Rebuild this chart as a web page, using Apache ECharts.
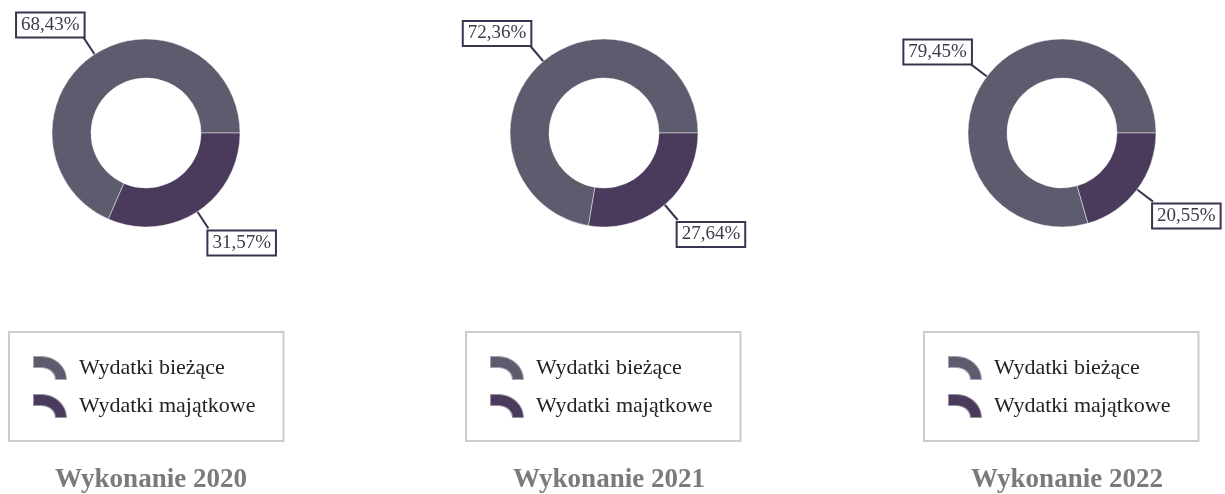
<!DOCTYPE html>
<html>
<head>
<meta charset="utf-8">
<script src="https://cdn.jsdelivr.net/npm/echarts@6/dist/echarts.min.js"></script>
<style>
  html, body { margin: 0; padding: 0; background: #fff; }
  #chart { width: 1225px; height: 494px; }
</style>
</head>
<body>
<div id="chart"></div>
<script>
// Struktura wydatków budżetu w latach 2020–2022 (udział procentowy)
const categories = ['Wydatki bieżące', 'Wydatki majątkowe'];
const years = ['2020', '2021', '2022'];
const current2020 = 68.43, capital2020 = 31.57;
const current2021 = 72.36, capital2021 = 27.64;
const current2022 = 79.45, capital2022 = 20.55;
const shares = [
  [current2020, capital2020],
  [current2021, capital2021],
  [current2022, capital2022]
];
const titlePrefix = 'Wykonanie ';

const colors = ['#5d5c6e', '#4a3a5b'];
const serif = '"Liberation Serif", "DejaVu Serif", serif';
const centersX = [146, 604, 1062];
const legendLeft = [9, 466, 924];

// Ikona legendy: wycinek pierścienia
const arcIcon = 'path://M0 0 L8 0 C22 0 34 10 34 24 L22 24 C22 17 16 12 8 12 L0 12 Z';

const chart = echarts.init(document.getElementById('chart'), null, { renderer: 'canvas' });

const series = years.map((y, i) => ({
  type: 'pie',
  name: y,
  center: [centersX[i], 133],
  radius: [55, 94],
  startAngle: 0,
  clockwise: false,
  avoidLabelOverlap: false,
  itemStyle: { borderColor: 'rgba(255,255,255,0.45)', borderWidth: 1 },
  label: {
    show: true,
    position: 'outside',
    formatter: p => p.value.toFixed(2).replace('.', ',') + '%',
    fontFamily: serif,
    fontSize: 19,
    color: '#3b3b4a',
    backgroundColor: '#fff',
    borderColor: '#3d3350',
    borderWidth: 2,
    padding: [3, 4, 1, 4]
  },
  labelLine: {
    show: true,
    length: 20,
    length2: 0,
    lineStyle: { color: '#3d3350', width: 2 }
  },
  labelLayout: function (params) {
    const r = params.labelRect;
    const pts = params.labelLinePoints;
    if (!pts) return {};
    const end = pts[pts.length - 1];
    const left = end[0] < centersX[i];
    const up = end[1] < 133;
    return {
      dx: left ? 5 : -5,
      dy: up ? -r.height / 2 + 1 : r.height / 2 + 1
    };
  },
  emphasis: { disabled: true },
  data: categories.map((c, k) => ({
    name: c,
    value: shares[i][k],
    itemStyle: { color: colors[k] }
  }))
}));

const legends = years.map((y, i) => ({
  seriesIndex: i,
  data: categories,
  orient: 'vertical',
  left: legendLeft[i],
  top: 332,
  padding: [23, 28, 22, 23],
  itemGap: 12,
  itemWidth: 34,
  itemHeight: 24,
  icon: arcIcon,
  borderColor: '#cccccc',
  borderWidth: 2,
  textStyle: { fontFamily: serif, fontSize: 22, color: '#222', padding: [0, 0, 0, 7] },
  selectedMode: false
}));

const titles = years.map((y, i) => ({
  text: titlePrefix + y,
  left: centersX[i],
  textAlign: 'center',
  top: 462,
  textStyle: { fontFamily: serif, fontSize: 27, fontWeight: 'bold', color: '#7a7a7a' }
}));

chart.setOption({
  animation: false,
  color: colors,
  title: titles,
  legend: legends,
  series: series
});
</script>
</body>
</html>
